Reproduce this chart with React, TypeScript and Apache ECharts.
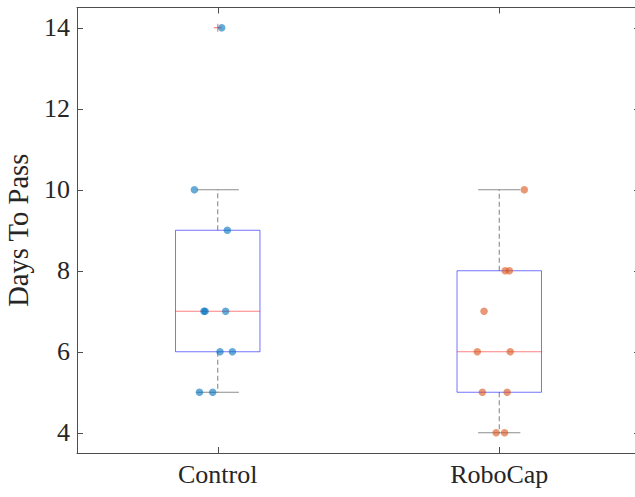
import React, { useEffect, useRef } from "react";
import * as echarts from "echarts";

// Group names and their positions on the x axis
const categories = ["Control", "RoboCap"];
const categoryPositions = [1, 2];

// Days to pass for each subject, with the horizontal jitter used for each dot
const controlDays = [14, 10, 9, 7, 7, 7, 6, 6, 5, 5];
const controlJitter = [0.014, -0.083, 0.034, -0.049, -0.045, 0.028, 0.008, 0.052, -0.065, -0.018];
const roboCapDays = [10, 8, 8, 7, 6, 6, 5, 5, 4, 4];
const roboCapJitter = [0.089, 0.021, 0.036, -0.054, -0.078, 0.039, -0.06, 0.028, -0.011, 0.019];

// Box summaries per group: [lower whisker, Q1, median, Q3, upper whisker]
const controlBox = [5, 6, 7, 9, 10];
const roboCapBox = [4, 5, 6, 8, 10];

// Points beyond the whiskers: [group position, value]
const outliers = [[1, 14]];

// Y tick values
const yTicks = [4, 6, 8, 10, 12, 14];

const FONT = "Liberation Serif";
const AXIS_COLOR = "#4d4d4d";
const TEXT_COLOR = "#262626";

export default function App() {
  const ref = useRef<HTMLDivElement>(null);

  useEffect(() => {
    if (!ref.current) return;
    const chart = echarts.init(ref.current, null, { renderer: "svg" });

    const boxData = [
      [categoryPositions[0], ...controlBox],
      [categoryPositions[1], ...roboCapBox],
    ];
    const controlPoints = controlDays.map((d, i) => [categoryPositions[0] + controlJitter[i], d]);
    const roboCapPoints = roboCapDays.map((d, i) => [categoryPositions[1] + roboCapJitter[i], d]);

    const boxHalf = 0.15;
    const capHalf = 0.075;

    const renderBox = (params: any, api: any) => {
      const x = api.value(0);
      const lo = api.value(1);
      const q1 = api.value(2);
      const med = api.value(3);
      const q3 = api.value(4);
      const hi = api.value(5);
      const tl = api.coord([x - boxHalf, q3]);
      const br = api.coord([x + boxHalf, q1]);
      const medL = api.coord([x - boxHalf, med]);
      const medR = api.coord([x + boxHalf, med]);
      const c = api.coord([x, q3]);
      const cHi = api.coord([x, hi]);
      const cQ1 = api.coord([x, q1]);
      const cLo = api.coord([x, lo]);
      const capHiL = api.coord([x - capHalf, hi]);
      const capHiR = api.coord([x + capHalf, hi]);
      const capLoL = api.coord([x - capHalf, lo]);
      const capLoR = api.coord([x + capHalf, lo]);
      const whiskerStyle = { stroke: "rgba(0,0,0,0.5)", lineWidth: 1, lineDash: [5, 3] };
      const capStyle = { stroke: "rgba(0,0,0,0.45)", lineWidth: 1 };
      return {
        type: "group",
        children: [
          { type: "line", shape: { x1: c[0], y1: c[1], x2: cHi[0], y2: cHi[1] }, style: whiskerStyle },
          { type: "line", shape: { x1: cQ1[0], y1: cQ1[1], x2: cLo[0], y2: cLo[1] }, style: whiskerStyle },
          { type: "line", shape: { x1: capHiL[0], y1: capHiL[1], x2: capHiR[0], y2: capHiR[1] }, style: capStyle },
          { type: "line", shape: { x1: capLoL[0], y1: capLoL[1], x2: capLoR[0], y2: capLoR[1] }, style: capStyle },
          {
            type: "rect",
            shape: { x: tl[0], y: tl[1], width: br[0] - tl[0], height: br[1] - tl[1] },
            style: { fill: "none", stroke: "rgba(0,0,255,0.55)", lineWidth: 1 },
          },
          {
            type: "line",
            shape: { x1: medL[0], y1: medL[1], x2: medR[0], y2: medR[1] },
            style: { stroke: "rgba(255,0,0,0.5)", lineWidth: 1 },
          },
        ],
      };
    };

    const renderOutlier = (params: any, api: any) => {
      const p = api.coord([api.value(0), api.value(1)]);
      const s = 4;
      const style = { stroke: "rgba(255,0,0,0.6)", lineWidth: 1 };
      return {
        type: "group",
        children: [
          { type: "line", shape: { x1: p[0] - s, y1: p[1], x2: p[0] + s, y2: p[1] }, style },
          { type: "line", shape: { x1: p[0], y1: p[1] - s, x2: p[0], y2: p[1] + s }, style },
        ],
      };
    };

    const tickStyle = { show: true, inside: true, length: 6, lineStyle: { color: AXIS_COLOR, width: 1 } };

    chart.setOption({
      animation: false,
      grid: {
        left: 77,
        top: 7.5,
        width: 563,
        height: 445.5,
        containLabel: false,
        outerBoundsMode: "none",
      },
      xAxis: [
        {
          type: "value",
          min: 0.5,
          max: 2.5,
          position: "bottom",
          axisLine: { show: true, lineStyle: { color: AXIS_COLOR, width: 1 } },
          axisTick: { ...tickStyle, customValues: categoryPositions },
          axisLabel: {
            customValues: categoryPositions,
            formatter: (v: number) => categories[categoryPositions.indexOf(v)] ?? "",
            fontFamily: FONT,
            fontSize: 26,
            color: TEXT_COLOR,
            margin: 8,
          },
          splitLine: { show: false },
        },
        {
          type: "value",
          min: 0.5,
          max: 2.5,
          position: "top",
          axisLine: { show: true, lineStyle: { color: AXIS_COLOR, width: 1 } },
          axisTick: { ...tickStyle, customValues: categoryPositions },
          axisLabel: { show: false },
          splitLine: { show: false },
        },
      ],
      yAxis: [
        {
          type: "value",
          min: 3.5,
          max: 14.5,
          position: "left",
          name: "Days To Pass",
          nameLocation: "middle",
          nameRotate: 90,
          nameGap: 39,
          nameTextStyle: { fontFamily: FONT, fontSize: 28.6, color: TEXT_COLOR },
          axisLine: { show: true, lineStyle: { color: AXIS_COLOR, width: 1 } },
          axisTick: { ...tickStyle, customValues: yTicks },
          axisLabel: {
            customValues: yTicks,
            fontFamily: FONT,
            fontSize: 26,
            color: TEXT_COLOR,
            margin: 7,
          },
          splitLine: { show: false },
        },
        {
          type: "value",
          min: 3.5,
          max: 14.5,
          position: "right",
          axisLine: { show: true, lineStyle: { color: AXIS_COLOR, width: 1 } },
          axisTick: { ...tickStyle, customValues: yTicks },
          axisLabel: { show: false },
          splitLine: { show: false },
        },
      ],
      series: [
        {
          type: "custom",
          name: "box",
          renderItem: renderBox,
          encode: { x: 0, y: [1, 2, 3, 4, 5] },
          data: boxData,
          z: 2,
          silent: true,
        },
        {
          type: "custom",
          name: "outliers",
          renderItem: renderOutlier,
          encode: { x: 0, y: 1 },
          data: outliers,
          z: 3,
          silent: true,
        },
        {
          type: "scatter",
          name: categories[0],
          data: controlPoints,
          symbol: "circle",
          symbolSize: 7.5,
          itemStyle: { color: "#0072BD", opacity: 0.6 },
          z: 4,
        },
        {
          type: "scatter",
          name: categories[1],
          data: roboCapPoints,
          symbol: "circle",
          symbolSize: 7.5,
          itemStyle: { color: "#D95319", opacity: 0.6 },
          z: 4,
        },
      ],
    });

    return () => chart.dispose();
  }, []);

  return (
    <div
      ref={ref}
      style={{ position: "fixed", left: 0, top: 0, width: 635, height: 497, background: "#fff" }}
    />
  );
}
